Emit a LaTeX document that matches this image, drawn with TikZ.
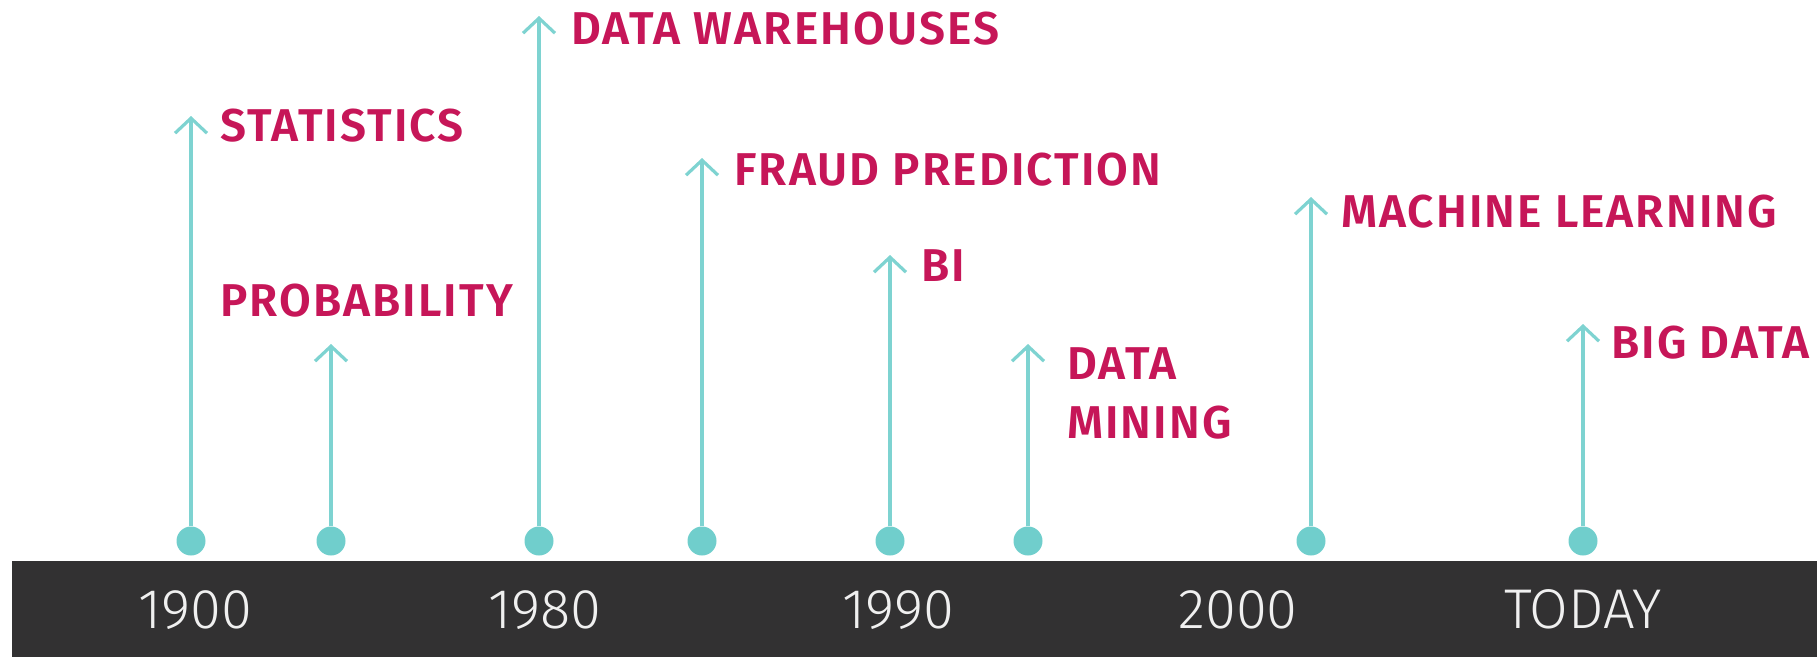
\documentclass[tikz,border=0pt]{standalone}
\usepackage{fontspec}
\setmainfont{Fira Sans}
\newfontfamily\evfont{Fira Sans SemiBold}[LetterSpace=4.5]
\newfontfamily\yearfont{Fira Sans Light}
\usetikzlibrary{arrows.meta}
\definecolor{barcol}{RGB}{50,49,50}
\definecolor{teal}{RGB}{112,206,204}
\definecolor{berry}{RGB}{198,22,88}
\tikzset{
	dot/.style={circle,fill=teal,inner sep=0pt,minimum size=29pt},
	event/.style={draw=teal!90!white,line width=3.2pt,-{Straight Barb[length=15pt,width=32pt]}},
	evtext/.style={anchor=base west,inner sep=0pt,text=berry,font=\fontsize{46}{59}\selectfont\evfont,align=left},
	yeartext/.style={anchor=base,inner sep=0pt,text=white!94!black,font=\fontsize{56}{60}\selectfont\yearfont}
}
\begin{document}
\begin{tikzpicture}[x=1pt,y=-1pt]
		% page
			\useasboundingbox (0,0) rectangle (1817,657);
		% time bar
			\fill[barcol] (12,561) rectangle (1817,657);
			\foreach \x/\year/\name in {195/1900/a,545/1980/b,898/1990/c,1238/2000/d,1583/TODAY/e}{
				\node[yeartext] (year\name) at (\x,628) {\year};
				}
		% events on the line
			\foreach \x/\top/\name in {191/116/stat,331/344/prob,539/16/ware,702/158/fraud,890/255/bi,1028/344/mine,1311/197/ml,1583/324/big}{
				\node[dot] (dot\name) at (\x,541) {};
				\coordinate (tip\name) at (\x,\top);
				\draw[event] (dot\name) -- (tip\name);
				}
		% event names (base of the last line)
			\node[evtext] (txtstat)  at (220,141) {STATISTICS};
			\node[evtext] (txtprob)  at (220,316) {PROBABILITY};
			\node[evtext] (txtware)  at (571,44)  {DATA WAREHOUSES};
			\node[evtext] (txtfraud) at (734,185) {FRAUD PREDICTION};
			\node[evtext] (txtbi)    at (921,281) {BI};
			\node[evtext] (txtmine)  at (1067,438) {DATA\\MINING};
			\node[evtext] (txtml)    at (1341,227) {MACHINE LEARNING};
			\node[evtext] (txtbig)   at (1611,358) {BIG DATA};
	\end{tikzpicture}
\end{document}
